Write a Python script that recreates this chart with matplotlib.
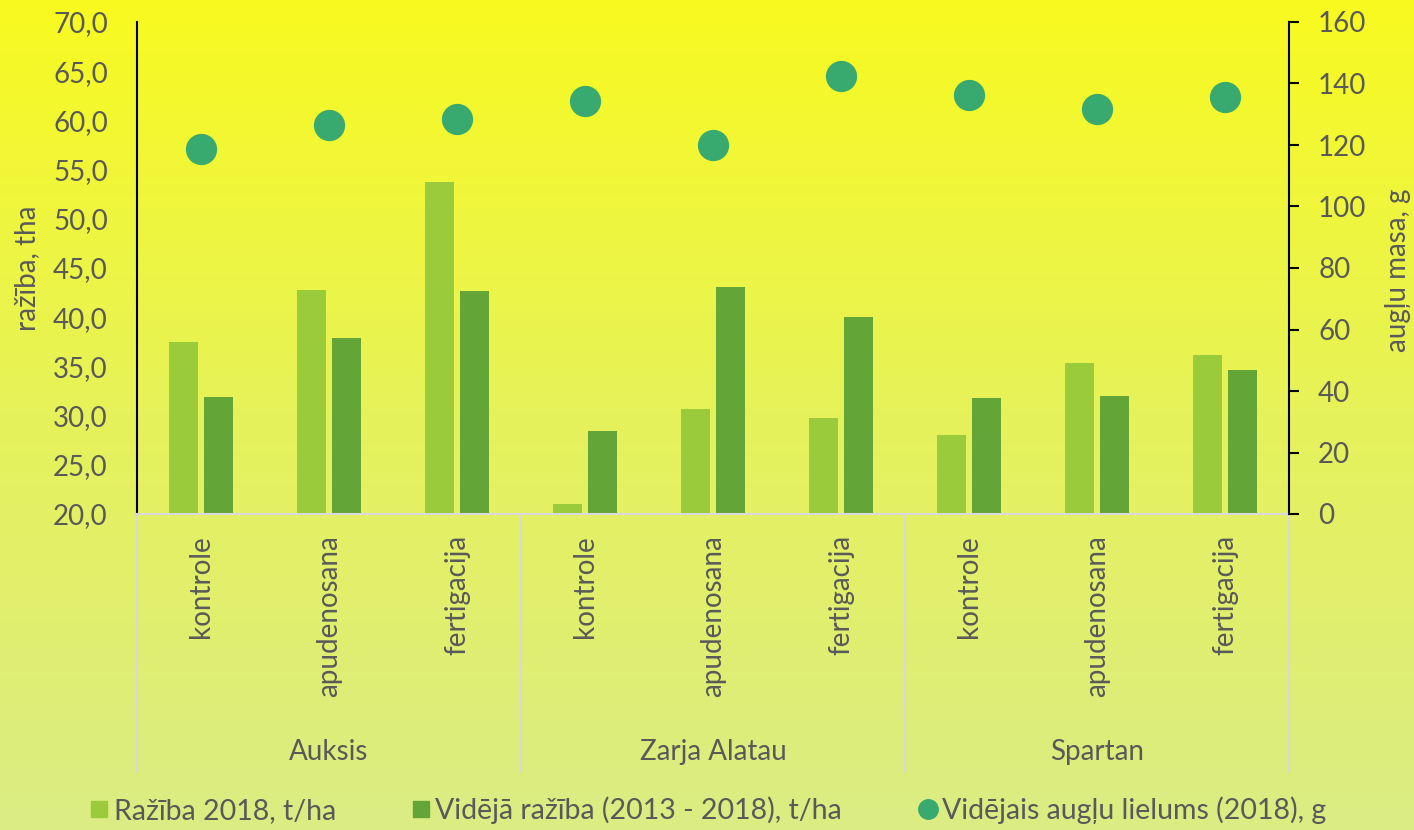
import matplotlib
matplotlib.use("Agg")
import matplotlib.pyplot as plt
import matplotlib.transforms as mtransforms
from matplotlib.lines import Line2D
import numpy as np

plt.rcParams['font.family'] = ['Lato', 'DejaVu Sans']

groups = ["Auksis", "Zarja Alatau", "Spartan"]
treatments = ["kontrole", "apudenosana", "fertigacija"]
raziba_2018 = [37.5, 42.8, 53.7, 21.0, 30.7, 29.8, 28.0, 35.3, 36.2]
videja_raziba = [31.9, 37.9, 42.7, 28.4, 43.1, 40.0, 31.8, 32.0, 34.6]
augli_lielums = [118.7, 126.5, 128.5, 134.3, 120.0, 142.4, 136.3, 131.7, 135.6]
left_ticks = [20, 25, 30, 35, 40, 45, 50, 55, 60, 65, 70]
right_ticks = [0, 20, 40, 60, 80, 100, 120, 140, 160]
legend_labels = ["Ražība 2018, t/ha", "Vidējā ražība (2013 - 2018), t/ha",
                 "Vidējais augļu lielums (2018), g"]

c_light = "#9acb3a"
c_dark = "#63a537"
c_dot = "#38a96f"
c_text = "#595959"

W, H = 1414, 830
fig = plt.figure(figsize=(W / 100, H / 100), dpi=100)

# background gradient
bg = fig.add_axes([0, 0, 1, 1], zorder=-10)
top = np.array([248, 250, 31]) / 255
mid = np.array([230, 242, 90]) / 255
bot = np.array([219, 236, 132]) / 255
n = 256
t = np.linspace(0, 1, n)[:, None]
grad = np.where(t < 0.5, top + (mid - top) * (t / 0.5), mid + (bot - mid) * ((t - 0.5) / 0.5))
bg.imshow(grad[:, None, :], aspect='auto', extent=[0, 1, 0, 1])
bg.axis('off')

x0, x1 = 137, 1289
y0, y1 = 22, 514
ax = fig.add_axes([x0 / W, 1 - y1 / H, (x1 - x0) / W, (y1 - y0) / H])
ax.patch.set_alpha(0)

ncat = len(raziba_2018)
x = np.arange(ncat)
bw = 0.226
off = 0.14
ax.bar(x - off, [v - 20 for v in raziba_2018], bottom=20, width=bw, color=c_light, zorder=2)
ax.bar(x + off, [v - 20 for v in videja_raziba], bottom=20, width=bw, color=c_dark, zorder=2)
ax.set_xlim(-0.5, ncat - 0.5)
ax.set_ylim(20, 70)
ax.set_yticks(left_ticks)
ax.set_yticklabels([f"{v:.1f}".replace('.', ',') for v in left_ticks])
ax.tick_params(axis='y', length=0, labelsize=20, labelcolor=c_text, pad=21)
ax.set_xticks([])
for s in ['top', 'right']:
    ax.spines[s].set_visible(False)
ax.spines['left'].set_color('black')
ax.spines['left'].set_linewidth(1.5)
ax.spines['bottom'].set_color('#d9d9d9')
ax.spines['bottom'].set_linewidth(1.5)

ax2 = ax.twinx()
ax2.plot(x, augli_lielums, 'o', color=c_dot, markersize=22.5, markeredgewidth=0, zorder=3)
ax2.set_ylim(0, 160)
ax2.set_yticks(right_ticks)
ax2.tick_params(axis='y', length=7, width=1.5, direction='out', labelsize=20,
                labelcolor=c_text, pad=14, color='black')
for s in ['top', 'left', 'bottom']:
    ax2.spines[s].set_visible(False)
ax2.spines['right'].set_color('black')
ax2.spines['right'].set_linewidth(1.5)

fig.text(27 / W, 1 - 268 / H, "ražība, tha", rotation=90, ha='center', va='center',
         fontsize=20, color=c_text)
fig.text(1398 / W, 1 - 270 / H, "augļu masa, g", rotation=90, ha='center', va='center',
         fontsize=20, color=c_text)

blend = mtransforms.blended_transform_factory(ax.transData, fig.transFigure)
# category labels
for i in range(ncat):
    ax.text(i, 1 - 535 / H, treatments[i % 3], rotation=90, ha='center', va='top',
            fontsize=20, color=c_text, transform=blend)
# group labels
for g, name in enumerate(groups):
    ax.text(g * 3 + 1, 1 - 752 / H, name, ha='center', va='center', fontsize=20,
            color=c_text, transform=blend)
# separators
for b in [-0.5, 2.5, 5.5, 8.5]:
    ax.plot([b, b], [1 - 514 / H, 1 - 772 / H], color='#d9d9d9', lw=1.5,
            transform=blend, clip_on=False)

handles = [
    Line2D([], [], marker='s', linestyle='none', color=c_light, markersize=12),
    Line2D([], [], marker='s', linestyle='none', color=c_dark, markersize=12),
    Line2D([], [], marker='o', linestyle='none', color=c_dot, markersize=14),
]
leg = fig.legend(handles, legend_labels, loc='center', bbox_to_anchor=(0.5, 1 - 810 / H),
                 ncol=3, frameon=False, fontsize=20.5, handletextpad=0.1,
                 columnspacing=2.6, handlelength=0.8)
for t_ in leg.get_texts():
    t_.set_color(c_text)

fig.savefig("out.png", dpi=100)
